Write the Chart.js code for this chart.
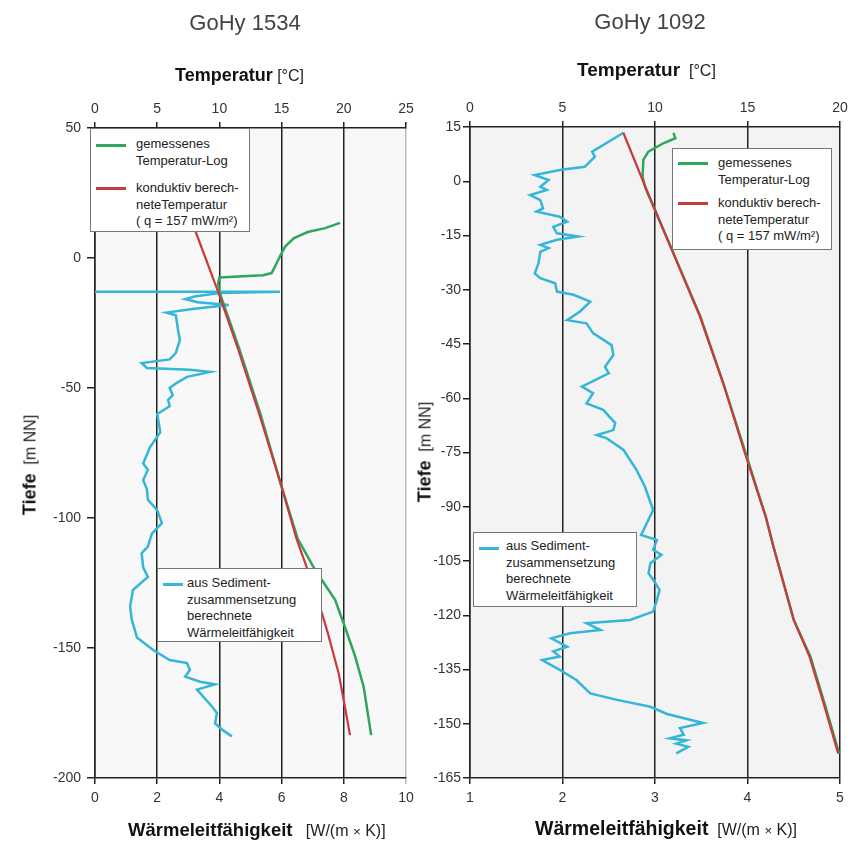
<!DOCTYPE html>
<html>
<head>
<meta charset="utf-8">
<script src="https://cdn.jsdelivr.net/npm/chart.js@4.4.1/dist/chart.umd.min.js"></script>
<style>
  body { margin:0; width:856px; height:843px; position:relative; background:#fff; overflow:hidden;
         font-family:'Liberation Sans', Arial, sans-serif; color:#222; }
  canvas { position:absolute; top:0; }
  .lbl { position:absolute; white-space:nowrap; transform:translate(-50%,-50%); }
  .lft { transform:translate(0,-50%); }
  .head { font-size:22px; color:#444; }
  .atitle { font-size:16px; color:#222; }
  .atitle b { color:#111; }
  .rot { transform:translate(-50%,-50%) rotate(-90deg); }
  .legend { position:absolute; background:#fff; border:1px solid #777; box-sizing:border-box; }
  .swatch { position:absolute; height:3px; }
  .ltext { position:absolute; font-size:13px; line-height:16.5px; color:#222; white-space:nowrap; }
</style>
</head>
<body>
<canvas id="leftChart" width="428" height="843" style="left:0"></canvas>
<canvas id="rightChart" width="428" height="843" style="left:428px"></canvas>

<div class="lbl head" style="left:245px;top:23px">GoHy 1534</div>
<div class="lbl head" style="left:650px;top:22px">GoHy 1092</div>
<div class="lbl atitle lft" style="left:175px;top:75px"><b style="font-size:18px">Temperatur</b> [°C]</div>
<div class="lbl atitle lft" style="left:577px;top:70px"><b style="font-size:19px">Temperatur</b> &nbsp;[°C]</div>
<div class="lbl atitle lft" style="left:128px;top:830px"><b style="font-size:18.5px">Wärmeleitfähigkeit</b> &nbsp;&nbsp;[W/(m <small>×</small> K)]</div>
<div class="lbl atitle lft" style="left:535px;top:828px"><b style="font-size:19.5px">Wärmeleitfähigkeit</b> &nbsp;[W/(m <small>×</small> K)]</div>
<div class="lbl atitle rot" style="left:30px;top:465px"><b style="font-size:18px">Tiefe</b> &nbsp;[m NN]</div>
<div class="lbl atitle rot" style="left:425px;top:452px"><b style="font-size:18px">Tiefe</b> &nbsp;[m NN]</div>

<script>
// ---------- GoHy 1534 ----------
const leftDepthTicks = [50, 0, -50, -100, -150, -200];
const leftTempTicks = [0, 5, 10, 15, 20, 25];
const leftCondTicks = [0, 2, 4, 6, 8, 10];

// [temperature °C, depth m NN]
const leftMeasured = [
  [19.7, 13.5], [18.5, 11.5], [17.1, 10], [16.0, 7.7], [15.3, 4.5], [15.0, 1.9], [14.6, -2],
  [14.2, -5.8], [13.5, -6.6], [10.0, -7.5], [9.9, -9.6], [10.0, -13], [11.6, -35], [13.3, -60],
  [15.0, -88], [16.3, -108], [17.7, -120], [19.3, -131.5], [20.1, -142], [20.9, -153],
  [21.6, -165], [22.2, -183.5]
];
const leftConductive = [
  [7.8, 13.5], [8.1, 10], [9.9, -13], [11.5, -35], [13.2, -60], [15.0, -88], [16.2, -108],
  [17.7, -128], [18.7, -144], [19.6, -160], [20.1, -173], [20.5, -183.5]
];
// [conductivity W/(m K), depth m NN]
const leftConductivity = [
  [0, -13], [5.95, -13], [4.0, -13.5], [3.2, -14.8], [2.9, -15.8], [3.3, -17], [4.3, -18.1],
  [3.2, -19.5], [2.3, -21], [2.6, -22], [2.67, -27.7], [2.73, -31.5], [2.6, -36.5], [2.4, -39],
  [1.5, -40.4], [1.67, -42.3], [3.05, -43], [3.7, -43.8], [2.96, -45.7], [2.63, -48], [2.4, -50],
  [2.5, -52.7], [2.35, -54.6], [2.4, -57], [2.0, -60], [2.1, -67], [1.77, -72.7], [1.55, -79],
  [1.7, -81.5], [1.55, -85.4], [1.67, -89], [1.7, -93], [2.0, -97], [2.15, -102], [1.83, -106],
  [1.7, -111], [1.5, -113.5], [1.55, -119], [1.7, -122.7], [1.22, -127.7], [1.13, -134],
  [1.18, -139], [1.35, -146], [1.87, -150.8], [2.4, -154.6], [2.96, -155.8], [3.05, -158.5],
  [2.9, -161], [3.38, -163], [3.86, -164], [3.28, -166], [3.76, -172.5], [3.92, -175],
  [3.86, -179], [4.1, -181.5], [4.4, -184]
];

// ---------- GoHy 1092 ----------
const rightDepthTicks = [15, 0, -15, -30, -45, -60, -75, -90, -105, -120, -135, -150, -165];
const rightTempTicks = [0, 5, 10, 15, 20];
const rightCondTicks = [1, 2, 3, 4, 5];

const rightMeasured = [
  [11.0, 13.4], [11.1, 11.9], [10.45, 10.5], [9.64, 8.2], [9.37, 5.9], [9.33, 1.3], [9.46, -1.5],
  [9.64, -3.8], [9.77, -5.2], [11.0, -20], [12.45, -37.4], [13.7, -56], [14.9, -75.2],
  [16.0, -93], [16.4, -101], [17.5, -121.3], [18.4, -131.4], [19.2, -145], [19.95, -158.2]
];
const rightConductive = [
  [8.29, 13.4], [9.73, -4.7], [11.0, -20], [12.43, -37.4], [13.7, -56], [14.86, -75.2],
  [16.0, -93], [16.4, -101], [17.5, -121.3], [18.35, -131.4], [19.15, -145], [19.9, -158.2]
];
const rightConductivity = [
  [2.66, 13.4], [2.32, 8.2], [2.35, 6.8], [2.24, 4.0], [1.97, 3.1], [1.70, 1.7], [1.85, 0.35],
  [1.76, -1.5], [1.83, -2.4], [1.65, -3.8], [1.76, -5.2], [1.79, -7.5], [1.72, -8.4], [1.97, -9.8],
  [2.05, -11.2], [1.90, -12.6], [1.94, -14.4], [2.17, -15.3], [1.94, -16.2], [1.76, -17.6],
  [1.85, -18.5], [1.76, -19.5], [1.74, -22.7], [1.70, -25.5], [1.76, -26.8], [1.92, -28.2],
  [1.94, -30.5], [2.12, -31.4], [2.30, -33.3], [2.19, -36.0], [2.05, -38.4], [2.26, -39.3],
  [2.33, -42.0], [2.53, -45.3], [2.55, -48.0], [2.46, -51.3], [2.50, -53.1], [2.21, -56.8],
  [2.33, -58.6], [2.26, -61.4], [2.44, -63.2], [2.57, -66.9], [2.55, -68.8], [2.37, -70.2],
  [2.48, -71.1], [2.66, -74.3], [2.80, -79.8], [2.89, -84.4], [2.98, -90.9], [2.85, -97.8],
  [3.02, -99.2], [2.98, -101.9], [3.07, -103.3], [2.95, -105.6], [2.93, -108.4], [2.98, -110.2],
  [3.05, -113.0], [3.02, -115.8], [2.98, -119.0], [2.73, -121.3], [2.26, -122.2], [2.41, -124.1],
  [2.08, -125.0], [1.88, -126.4], [2.05, -128.7], [1.90, -130.0], [1.97, -131.4], [1.78, -132.4],
  [1.97, -135.1], [2.15, -137.9], [2.30, -141.6], [2.59, -143.4], [2.95, -145.3], [3.13, -147.3],
  [3.52, -149.8], [3.27, -151.2], [3.31, -153], [3.16, -154], [3.34, -154.6], [3.23, -155.5],
  [3.36, -156.4], [3.23, -158.2]
];

const legendMeasured = ['gemessenes', 'Temperatur-Log'];
const legendConductive = ['konduktiv berech-', 'neteTemperatur', '( q = 157 mW/m²)'];
const legendConductivity = ['aus Sediment-', 'zusammensetzung', 'berechnete', 'Wärmeleitfähigkeit'];

const GREEN = '#2fa65c';
const RED = '#c83a3e';
const BLUE = '#34b6d8';
const FONT = { family: "'Liberation Sans', Arial, sans-serif", size: 14 };

// shade the plot area like the scanned figure
const plotBg = {
  id: 'plotBg',
  beforeDraw(chart, args, opts) {
    const a = chart.chartArea;
    chart.ctx.save();
    chart.ctx.fillStyle = opts.color;
    chart.ctx.fillRect(a.left, a.top, a.right - a.left, a.bottom - a.top);
    chart.ctx.restore();
  }
};

function toPoints(pairs) {
  return pairs.map(p => ({ x: p[0], y: p[1] }));
}

function fixedTicks(list) {
  return scale => { scale.ticks = list.map(v => ({ value: v })); };
}

function makeChart(id, cfg) {
  return new Chart(document.getElementById(id), {
    type: 'scatter',
    data: {
      datasets: [
        { data: toPoints(cfg.conductive), xAxisID: 'x2', borderColor: RED, borderWidth: 2.2 },
        { data: toPoints(cfg.measured), xAxisID: 'x2', borderColor: GREEN, borderWidth: 2.5 },
        { data: toPoints(cfg.conductivity), xAxisID: 'x', borderColor: BLUE, borderWidth: 2.5 }
      ].map(d => Object.assign(d, { showLine: true, pointRadius: 0, tension: 0, fill: false }))
    },
    options: {
      responsive: false,
      animation: false,
      events: [],
      layout: { padding: cfg.padding },
      plugins: { legend: { display: false }, tooltip: { enabled: false }, plotBg: { color: cfg.bg } },
      scales: {
        x: {
          type: 'linear', position: 'bottom', min: cfg.condTicks[0], max: cfg.condTicks[cfg.condTicks.length - 1],
          afterBuildTicks: fixedTicks(cfg.condTicks),
          afterFit: s => { s.height = 30; },
          ticks: { font: FONT, color: '#333', padding: 6 },
          grid: {
            color: c => (cfg.lightRight && c.index === cfg.condTicks.length - 1) ? '#bbb' : '#222',
            lineWidth: 1.5, tickLength: 6
          },
          border: { color: '#222', width: 1.5 }
        },
        x2: {
          type: 'linear', position: 'top', min: cfg.tempTicks[0], max: cfg.tempTicks[cfg.tempTicks.length - 1],
          afterBuildTicks: fixedTicks(cfg.tempTicks),
          afterFit: s => { s.height = 33; },
          ticks: { font: FONT, color: '#333', padding: 4 },
          grid: { drawOnChartArea: false, color: '#222', lineWidth: 1.5, tickLength: 6 },
          border: { color: '#222', width: 1.5 }
        },
        y: {
          type: 'linear', min: cfg.depthTicks[cfg.depthTicks.length - 1], max: cfg.depthTicks[0],
          afterBuildTicks: fixedTicks(cfg.depthTicks),
          afterFit: s => { s.width = cfg.yWidth; },
          ticks: { font: FONT, color: '#333', padding: cfg.yPad },
          grid: { drawOnChartArea: false, color: '#222', lineWidth: 1.5, tickLength: cfg.yTick },
          border: { color: '#222', width: 1.5 }
        }
      }
    },
    plugins: [plotBg]
  });
}

makeChart('leftChart', {
  measured: leftMeasured, conductive: leftConductive, conductivity: leftConductivity,
  depthTicks: leftDepthTicks, tempTicks: leftTempTicks, condTicks: leftCondTicks,
  padding: { top: 95, bottom: 35, left: 40, right: 22 }, yWidth: 55, yPad: 6, yTick: 8,
  bg: '#f8f8f8', lightRight: true
});
makeChart('rightChart', {
  measured: rightMeasured, conductive: rightConductive, conductivity: rightConductivity,
  depthTicks: rightDepthTicks, tempTicks: rightTempTicks, condTicks: rightCondTicks,
  padding: { top: 94, bottom: 35, left: 6, right: 16 }, yWidth: 36, yPad: 2, yTick: 7,
  bg: '#f3f3f3', lightRight: false
});

// legend boxes laid over the plots
function addLegend(x, y, w, h, items) {
  const box = document.createElement('div');
  box.className = 'legend';
  box.style.cssText = `left:${x}px;top:${y}px;width:${w}px;height:${h}px`;
  items.forEach(it => {
    const sw = document.createElement('div');
    sw.className = 'swatch';
    sw.style.cssText = `left:${it.sx}px;top:${it.sy}px;width:${it.sw}px;background:${it.color}`;
    const tx = document.createElement('div');
    tx.className = 'ltext';
    tx.style.cssText = `left:${it.tx}px;top:${it.ty}px`;
    tx.innerHTML = it.lines.join('<br>');
    box.append(sw, tx);
  });
  document.body.append(box);
}

addLegend(90, 128, 160, 104, [
  { color: GREEN, lines: legendMeasured, sx: 5, sy: 15, sw: 30, tx: 45, ty: 7 },
  { color: RED, lines: legendConductive, sx: 5, sy: 58, sw: 30, tx: 45, ty: 51 }
]);
addLegend(672, 148, 160, 102, [
  { color: GREEN, lines: legendMeasured, sx: 5, sy: 13, sw: 30, tx: 45, ty: 6 },
  { color: RED, lines: legendConductive, sx: 5, sy: 53, sw: 30, tx: 45, ty: 46 }
]);
addLegend(157, 568, 165, 74, [
  { color: BLUE, lines: legendConductivity, sx: 5, sy: 14, sw: 20, tx: 29, ty: 6 }
]);
addLegend(473, 532, 164, 75, [
  { color: BLUE, lines: legendConductivity, sx: 5, sy: 14, sw: 20, tx: 32, ty: 5 }
]);
</script>
</body>
</html>
